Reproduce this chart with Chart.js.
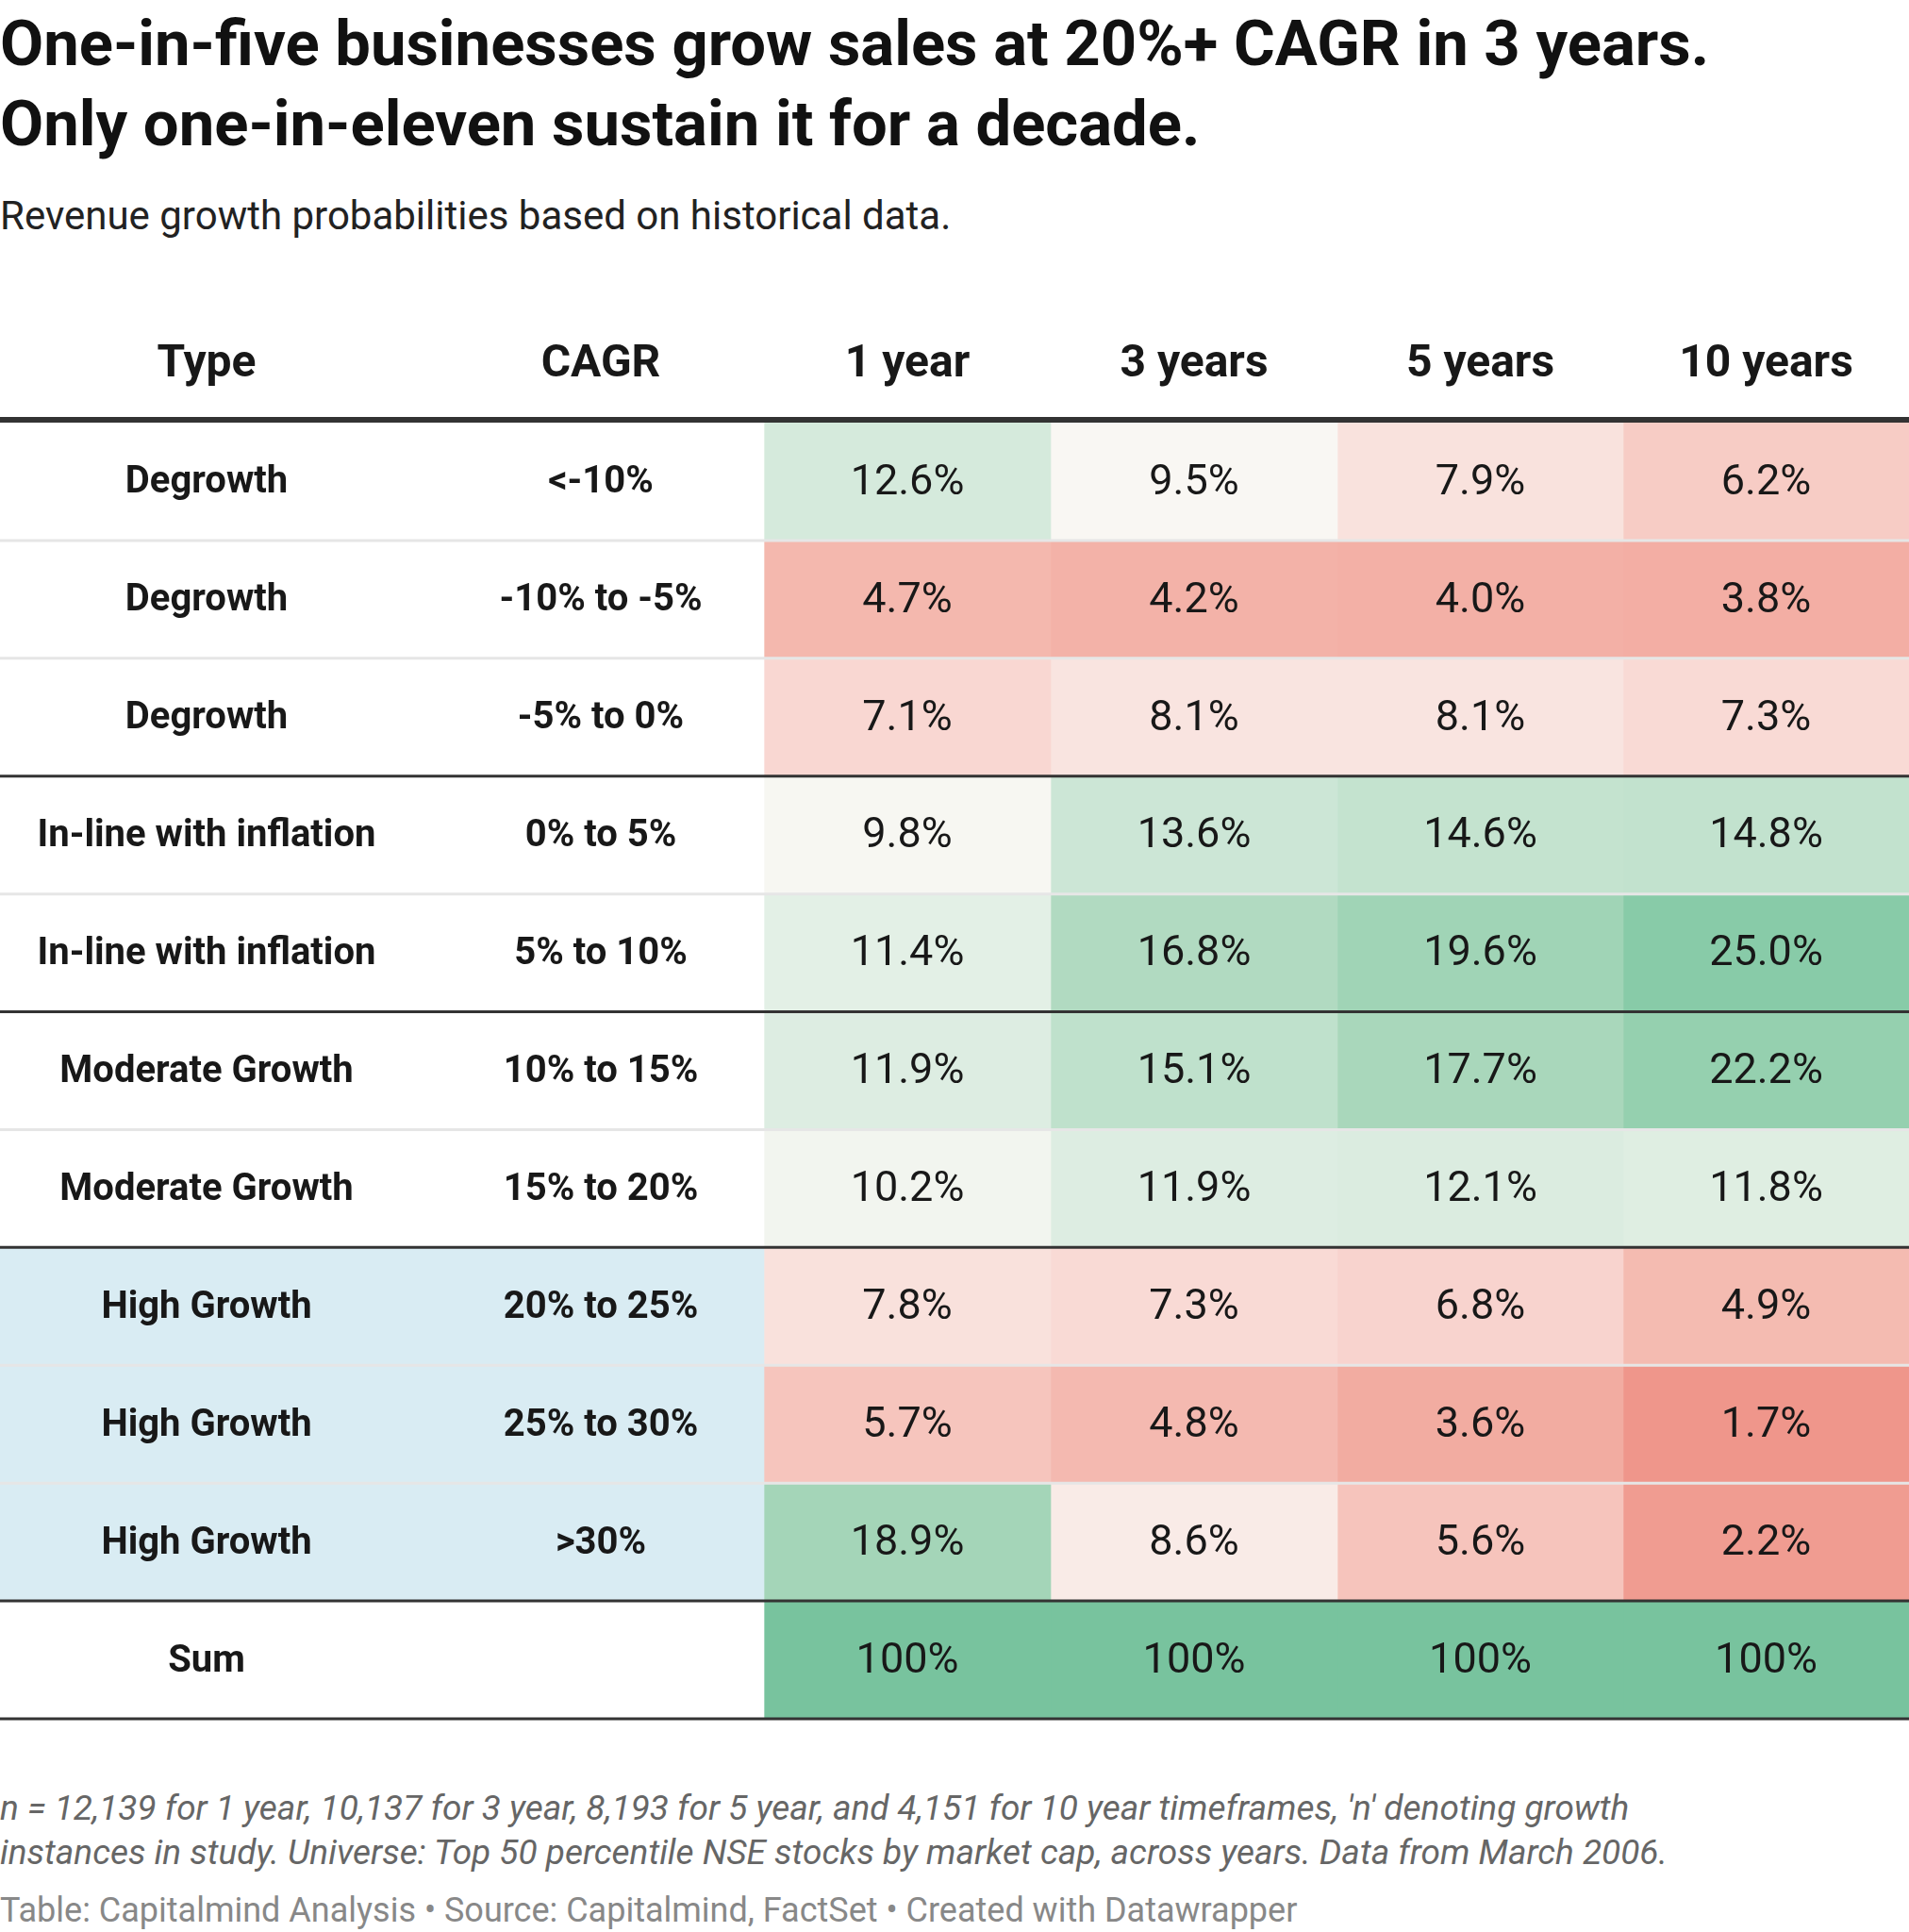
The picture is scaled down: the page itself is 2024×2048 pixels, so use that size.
<!DOCTYPE html>
<html>
<head>
<meta charset="utf-8">
<script src="https://cdn.jsdelivr.net/npm/chart.js@4"></script>
<style>
  body { margin: 0; width: 2024px; height: 2048px; background: #fff; font-family: Roboto, sans-serif; position: relative; overflow: hidden; }
  .abs { position: absolute; left: 0; white-space: nowrap; }
  #title { top: 4px; font-weight: 700; font-size: 67px; line-height: 85px; color: #111; }
  #sub { top: 204px; font-size: 42px; color: #222; }
  #note { top: 1893px; font-size: 37px; line-height: 47px; font-style: italic; color: #666; }
  #src { top: 2004px; font-size: 36px; color: #888; }
  canvas { position: absolute; left: 0; top: 330px; }
</style>
</head>
<body>
<div id="title" class="abs">One-in-five businesses grow sales at 20%+ CAGR in 3 years.<br>Only one-in-eleven sustain it for a decade.</div>
<div id="sub" class="abs">Revenue growth probabilities based on historical data.</div>
<canvas id="table" width="2024" height="1500"></canvas>
<div id="note" class="abs">n = 12,139 for 1 year, 10,137 for 3 year, 8,193 for 5 year, and 4,151 for 10 year timeframes, 'n' denoting growth<br>instances in study. Universe: Top 50 percentile NSE stocks by market cap, across years. Data from March 2006.</div>
<div id="src" class="abs">Table: Capitalmind Analysis • Source: Capitalmind, FactSet • Created with Datawrapper</div>
<script>
// table data
const headers = ['Type', 'CAGR', '1 year', '3 years', '5 years', '10 years'];
const types = ['Degrowth', 'Degrowth', 'Degrowth', 'In-line with inflation', 'In-line with inflation',
  'Moderate Growth', 'Moderate Growth', 'High Growth', 'High Growth', 'High Growth', 'Sum'];
const cagrs = ['<-10%', '-10% to -5%', '-5% to 0%', '0% to 5%', '5% to 10%', '10% to 15%',
  '15% to 20%', '20% to 25%', '25% to 30%', '>30%', ''];
const year1 = [12.6, 4.7, 7.1, 9.8, 11.4, 11.9, 10.2, 7.8, 5.7, 18.9, 100];
const year3 = [9.5, 4.2, 8.1, 13.6, 16.8, 15.1, 11.9, 7.3, 4.8, 8.6, 100];
const year5 = [7.9, 4.0, 8.1, 14.6, 19.6, 17.7, 12.1, 6.8, 3.6, 5.6, 100];
const year10 = [6.2, 3.8, 7.3, 14.8, 25.0, 22.2, 11.8, 4.9, 1.7, 2.2, 100];

// layout
const edges = [0, 810, 1114, 1418, 1721, 2024];
const labelCenters = [219, 637];
const groupEnds = [2, 4, 6, 9];

const stops = [[1.7, '#ef968b'], [4.7, '#f4b8ae'], [7.3, '#f9dad5'], [9.6, '#f9f8f4'],
  [12.6, '#d5eadc'], [17.7, '#a9d7bb'], [25, '#88cba8'], [100, '#78c39e']];
function hex(c) { return [1, 3, 5].map(i => parseInt(c.substr(i, 2), 16)); }
function colorFor(v) {
  if (v <= stops[0][0]) return stops[0][1];
  for (let i = 1; i < stops.length; i++) {
    if (v <= stops[i][0]) {
      const t = (v - stops[i - 1][0]) / (stops[i][0] - stops[i - 1][0]);
      const a = hex(stops[i - 1][1]), b = hex(stops[i][1]);
      return 'rgb(' + a.map((x, k) => Math.round(x + (b[k] - x) * t)).join(',') + ')';
    }
  }
  return stops[stops.length - 1][1];
}

const rowIdx = types.map((_, i) => i);
const series = [year1, year3, year5, year10];

const datasets = [{
  data: rowIdx.map(() => [edges[0], edges[1]]),
  backgroundColor: types.map(t => t === 'High Growth' ? '#d9ecf3' : '#ffffff')
}].concat(series.map((s, c) => ({
  data: s.map(() => [edges[c + 1], edges[c + 2]]),
  backgroundColor: s.map(colorFor)
})));

const textPlugin = {
  id: 'tableText',
  afterDatasetsDraw(chart) {
    const ctx = chart.ctx, x = chart.scales.x, y = chart.scales.y, area = chart.chartArea;
    const band = (area.bottom - area.top) / types.length;
    ctx.save();
    // row separators
    for (let r = 0; r < types.length - 1; r++) {
      const yy = y.getPixelForValue(r) + band / 2;
      if (groupEnds.includes(r) || r === types.length - 2) {
        ctx.strokeStyle = '#333'; ctx.lineWidth = 3;
      } else {
        ctx.strokeStyle = '#e6e6e6'; ctx.lineWidth = 3;
      }
      ctx.beginPath(); ctx.moveTo(area.left, yy); ctx.lineTo(area.right, yy); ctx.stroke();
    }
    ctx.strokeStyle = '#333';
    ctx.lineWidth = 6;
    ctx.beginPath(); ctx.moveTo(area.left, area.top - 3); ctx.lineTo(area.right, area.top - 3); ctx.stroke();
    ctx.lineWidth = 3;
    ctx.beginPath(); ctx.moveTo(area.left, area.bottom); ctx.lineTo(area.right, area.bottom); ctx.stroke();

    ctx.textAlign = 'center';
    ctx.textBaseline = 'middle';
    ctx.fillStyle = '#181818';
    const centers = labelCenters.concat(series.map((_, c) => (edges[c + 1] + edges[c + 2]) / 2));
    ctx.font = 'bold 48px Roboto';
    headers.forEach((h, c) => ctx.fillText(h, x.getPixelForValue(centers[c]), area.top - 61));
    ctx.font = 'bold 40px Roboto';
    rowIdx.forEach(r => {
      const yy = y.getPixelForValue(r) + 2;
      ctx.fillText(types[r], x.getPixelForValue(centers[0]), yy);
      ctx.fillText(cagrs[r], x.getPixelForValue(centers[1]), yy);
    });
    ctx.font = '45px Roboto';
    series.forEach((s, c) => s.forEach((v, r) => {
      const txt = v === 100 ? '100%' : v.toFixed(1) + '%';
      ctx.fillText(txt, x.getPixelForValue(centers[c + 2]), y.getPixelForValue(r) + 2);
    }));
    ctx.restore();
  }
};

new Chart(document.getElementById('table'), {
  type: 'bar',
  data: { labels: rowIdx, datasets: datasets },
  options: {
    indexAxis: 'y',
    responsive: false,
    maintainAspectRatio: false,
    devicePixelRatio: 1,
    animation: false,
    grouped: false,
    barPercentage: 1,
    categoryPercentage: 1,
    layout: { padding: { top: 118, bottom: 8, left: 0, right: 0 } },
    scales: {
      x: { type: 'linear', min: 0, max: 2024, display: false },
      y: { display: false }
    },
    plugins: { legend: { display: false }, tooltip: { enabled: false } }
  },
  plugins: [textPlugin]
});
</script>
</body>
</html>
